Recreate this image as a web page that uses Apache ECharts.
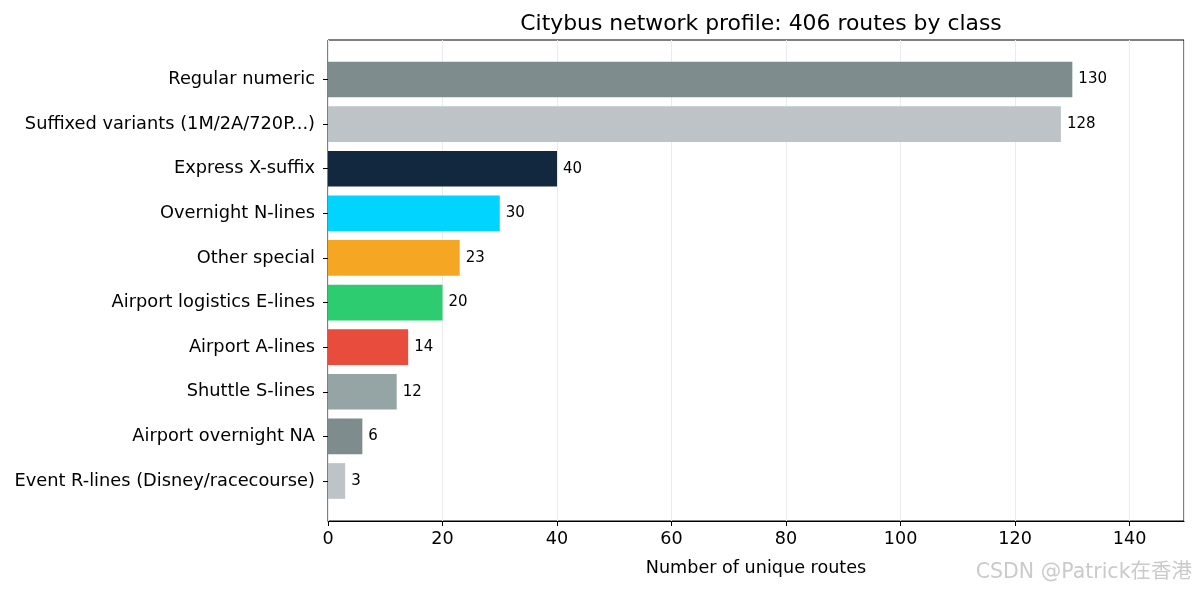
<!DOCTYPE html>
<html>
<head>
<meta charset="utf-8">
<title>Citybus network profile</title>
<script src="https://cdn.jsdelivr.net/npm/echarts@6/dist/echarts.min.js"></script>
<style>
  html, body { margin: 0; padding: 0; background: #fff; }
  #chart { width: 1197px; height: 590px; }
</style>
</head>
<body>
<div id="chart"></div>
<script>
'use strict';

// route classes, top to bottom
const categories = [
  'Regular numeric',
  'Suffixed variants (1M/2A/720P...)',
  'Express X-suffix',
  'Overnight N-lines',
  'Other special',
  'Airport logistics E-lines',
  'Airport A-lines',
  'Shuttle S-lines',
  'Airport overnight NA',
  'Event R-lines (Disney/racecourse)'
];
const routeCounts = [130, 128, 40, 30, 23, 20, 14, 12, 6, 3];
const barColors = [
  '#7f8c8d', '#bdc3c7', '#12283f', '#00d4ff', '#f5a623',
  '#2ecc71', '#e74c3c', '#95a5a6', '#7f8c8d', '#bdc3c7'
];
const xTicks = [0, 20, 40, 60, 80, 100, 120, 140];
const xMax = 149.5;

const FONT = '"DejaVu Sans"';

(function () {
  const chart = echarts.init(document.getElementById('chart'), null, { renderer: 'canvas' });

  const option = {
    animation: false,
    backgroundColor: '#ffffff',
    textStyle: { fontFamily: FONT, color: '#000' },
    title: {
      text: 'Citybus network profile: 406 routes by class',
      left: 756,
      top: 8,
      textAlign: 'center',
      textStyle: { fontFamily: FONT, fontSize: 21.9, fontWeight: 'normal', color: '#000' }
    },
    grid: [
      // frame with x axis
      { left: 328, right: 13, top: 40, bottom: 69, show: true, borderColor: '#000', borderWidth: 1, backgroundColor: 'transparent' },
      // bar band area
      { left: 328, right: 13, top: 57.2, bottom: 86.7 }
    ],
    xAxis: [
      {
        gridIndex: 0,
        type: 'value',
        min: 0,
        max: xMax,
        interval: 20,
        name: 'Number of unique routes',
        nameLocation: 'middle',
        nameGap: 38,
        nameTextStyle: { fontFamily: FONT, fontSize: 17.6, color: '#000' },
        axisLine: { show: true, lineStyle: { color: '#000', width: 1 } },
        axisTick: { show: true, length: 5, lineStyle: { color: '#000' } },
        axisLabel: {
          fontFamily: FONT, fontSize: 17.6, color: '#000', margin: 9,
          showMaxLabel: false,
          formatter: (v) => (xTicks.indexOf(v) >= 0 ? String(v) : '')
        },
        splitLine: { show: true, lineStyle: { color: '#ebebeb', width: 1 } }
      },
      {
        gridIndex: 1,
        type: 'value',
        min: 0,
        max: xMax,
        show: false
      }
    ],
    yAxis: [
      {
        gridIndex: 0,
        type: 'category',
        data: categories,
        show: false
      },
      {
        gridIndex: 1,
        type: 'category',
        inverse: true,
        data: categories,
        axisLine: { show: false },
        axisTick: { show: true, length: 5, alignWithLabel: true, lineStyle: { color: '#000' } },
        axisLabel: { fontFamily: FONT, fontSize: 17.8, color: '#000', margin: 13 },
        splitLine: { show: false }
      }
    ],
    series: [
      {
        type: 'bar',
        xAxisIndex: 1,
        yAxisIndex: 1,
        barWidth: '80%',
        data: routeCounts.map((v, i) => ({ value: v, itemStyle: { color: barColors[i] } })),
        label: {
          show: true,
          position: 'right',
          distance: 6,
          fontFamily: FONT,
          fontSize: 15,
          color: '#000'
        }
      }
    ],
    graphic: [
      {
        type: 'text',
        right: 5,
        bottom: 7,
        style: {
          text: 'CSDN @Patrick在香港',
          fontFamily: '"DejaVu Sans", "Noto Sans CJK SC"',
          fontSize: 20.5,
          fill: 'rgba(150,150,150,0.5)'
        }
      }
    ]
  };

  chart.setOption(option);
  window.addEventListener('resize', () => chart.resize());
})();
</script>
</body>
</html>
